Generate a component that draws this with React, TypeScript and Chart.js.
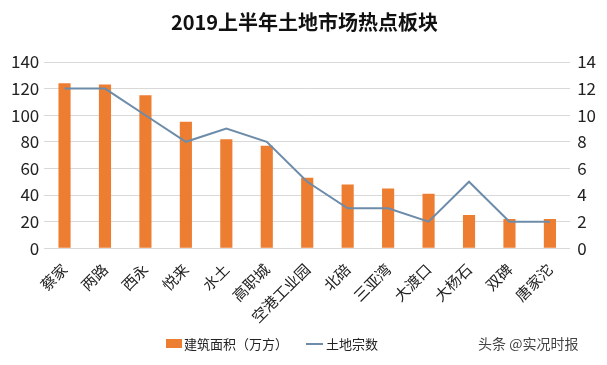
import React, { useEffect, useRef } from "react";
import { Chart, registerables } from "chart.js";

Chart.register(...registerables);

const categories = ["蔡家", "两路", "西永", "悦来", "水土", "高职城", "空港工业园", "北碚", "三亚湾", "大渡口", "大杨石", "双碑", "唐家沱"];
const buildingArea = [124, 123, 115, 95, 82, 77, 53, 48, 45, 41, 25, 22, 22];
const landCount = [12, 12, 10, 8, 9, 8, 5, 3, 3, 2, 5, 2, 2];
const titleText = "2019上半年土地市场热点板块";
const barLabel = "建筑面积（万方）";
const lineLabel = "土地宗数";
const watermark = "头条 @实况时报";

const FONT = "'Noto Sans CJK SC', 'Noto Sans', sans-serif";
const ORANGE = "#ED7D31";
const LINE = "#6D8CAA";

export default function App() {
  const ref = useRef<HTMLCanvasElement | null>(null);
  useEffect(() => {
    if (!ref.current) return;
    const chart = new Chart(ref.current, {
      data: {
        labels: categories,
        datasets: [
          {
            type: "line",
            label: lineLabel,
            data: landCount,
            yAxisID: "y1",
            borderColor: LINE,
            backgroundColor: LINE,
            borderWidth: 2,
            pointRadius: 0,
            tension: 0,
            order: 0,
          },
          {
            type: "bar",
            label: barLabel,
            data: buildingArea,
            yAxisID: "y",
            backgroundColor: ORANGE,
            barPercentage: 0.6,
            categoryPercentage: 0.5,
            order: 1,
          },
        ],
      },
      options: {
        responsive: true,
        maintainAspectRatio: false,
        animation: false,
        layout: { padding: { left: 6, right: 4, top: 0, bottom: 35 } },
        plugins: {
          legend: { display: false },
          tooltip: { enabled: false },
          title: {
            display: true,
            text: titleText,
            color: "#111",
            font: { family: FONT, size: 20, weight: "bold" },
            padding: { top: 10, bottom: 28 },
          },
        },
        scales: {
          x: {
            grid: { display: false },
            border: { display: false },
            ticks: {
              color: "#222",
              font: { family: FONT, size: 15 },
              maxRotation: 45,
              minRotation: 45,
              padding: 4,
            },
          },
          y: {
            position: "left",
            min: 0,
            max: 140,
            ticks: { stepSize: 20, color: "#222", font: { family: FONT, size: 17 }, padding: 5 },
            grid: { color: "#D9D9D9", drawTicks: false, lineWidth: 1 },
            border: { display: false },
          },
          y1: {
            position: "right",
            min: 0,
            max: 14,
            ticks: { stepSize: 2, color: "#222", font: { family: FONT, size: 17 }, padding: 7 },
            grid: { display: false, drawTicks: false },
            border: { display: false },
          },
        },
      },
    });
    return () => chart.destroy();
  }, []);

  return (
    <div style={{ position: "fixed", left: 0, top: 0, width: 607, height: 365, background: "#fff", fontFamily: FONT }}>
      <canvas ref={ref} />
      <div style={{ position: "absolute", left: 166, top: 334, display: "flex", alignItems: "center", fontSize: 13, color: "#222", whiteSpace: "nowrap" }}>
        <span style={{ display: "inline-block", width: 16, height: 9, background: ORANGE, marginRight: 2 }} />
        <span>{barLabel}</span>
        <span style={{ display: "inline-block", width: 17, height: 2, background: LINE, marginLeft: 18, marginRight: 3 }} />
        <span>{lineLabel}</span>
      </div>
      <div style={{ position: "absolute", left: 478, top: 333, fontSize: 14, color: "#444", whiteSpace: "nowrap" }}>{watermark}</div>
    </div>
  );
}
